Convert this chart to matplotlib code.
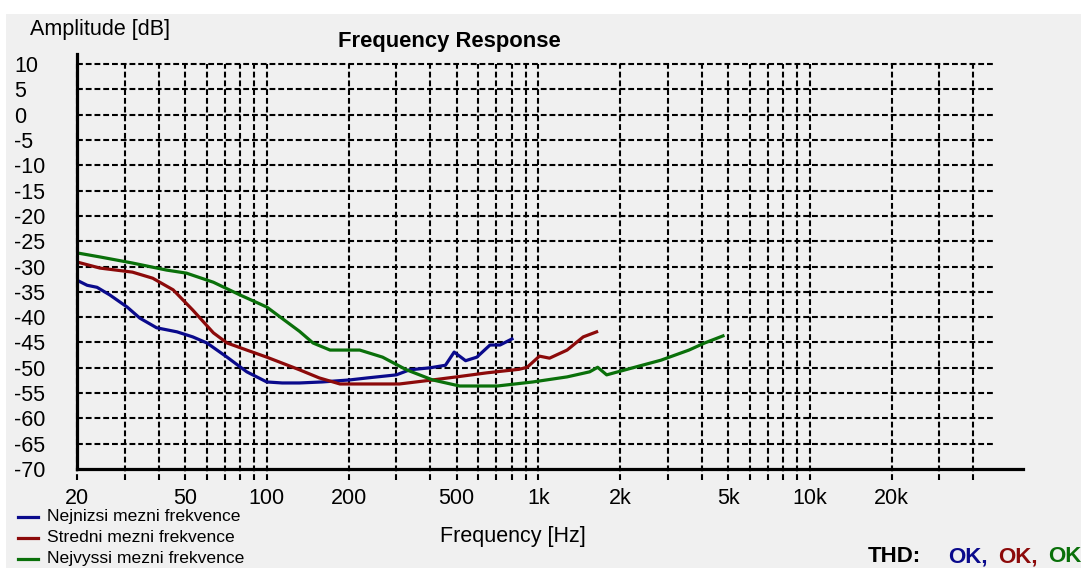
import matplotlib
matplotlib.use("Agg")
import matplotlib.pyplot as plt
from matplotlib.patches import Rectangle
from matplotlib.lines import Line2D

plt.rcParams['font.family'] = ['Liberation Sans', 'DejaVu Sans']

# data (frequency in Hz, level in dB)
blue_f = [20, 21.8, 23.7, 26.4, 30.6, 34.1, 39.3, 46.7, 53.4, 60.2, 71.4, 84.4, 100, 114, 132,
          160, 202, 235, 300, 336, 400, 455, 490, 540, 594, 664, 723, 800]
blue_db = [-32.7, -33.7, -34.1, -35.6, -38, -40.2, -42.1, -42.9, -43.9, -45.1, -47.9, -50.8, -52.8, -53, -53,
           -52.8, -52.4, -52, -51.4, -50.4, -50.0, -49.5, -46.9, -48.6, -47.9, -45.5, -45.5, -44.3]

red_f = [20, 24.3, 32, 38, 45.2, 53.4, 63.6, 71.4, 84.4, 100, 132, 156, 186, 250, 308, 408, 500,
         646, 850, 910, 1010, 1100, 1277, 1464, 1640]
red_db = [-29.1, -30.3, -31.1, -32.3, -34.6, -38.6, -43.1, -45.1, -46.5, -47.9, -50.4, -52, -53.2, -53.2, -53.2, -52.4, -51.8,
          -51, -50.3, -49.9, -47.7, -48.1, -46.5, -43.9, -42.9]

green_f = [20, 24.3, 32, 42.8, 50.6, 63.6, 79.6, 100, 132, 148, 171, 220, 267, 327, 408, 513, 706,
           955, 1277, 1546, 1655, 1786, 2160, 2830, 3590, 4100, 4790]
green_db = [-27.3, -28.1, -29.3, -30.7, -31.3, -33.1, -35.6, -38, -42.8, -45.1, -46.5, -46.5, -47.9, -50.4, -52.4, -53.6, -53.6,
            -52.8, -51.8, -50.8, -49.9, -51.4, -50.2, -48.5, -46.5, -45.1, -43.7]

series = [
    ("Nejnizsi mezni frekvence", blue_f, blue_db, "#0a0a8c"),
    ("Stredni mezni frekvence", red_f, red_db, "#8c0a0a"),
    ("Nejvyssi mezni frekvence", green_f, green_db, "#0a700a"),
]

x_ticks = [20, 50, 100, 200, 500, 1000, 2000, 5000, 10000, 20000]
x_labels = ["20", "50", "100", "200", "500", "1k", "2k", "5k", "10k", "20k"]
x_grid = [20, 30, 40, 50, 60, 70, 80, 90, 100,
          200, 300, 400, 500, 600, 700, 800, 900, 1000,
          2000, 3000, 4000, 5000, 6000, 7000, 8000, 9000, 10000,
          20000, 30000, 40000]
y_ticks = list(range(10, -75, -5))

W, H = 1081, 568
def fx(px):
    return px / W
def fy(py):
    return 1 - py / H

fig = plt.figure(figsize=(W / 100, H / 100), dpi=100, facecolor="white")
fig.patches.append(Rectangle((fx(6), 0), 1, fy(14), transform=fig.transFigure,
                             facecolor="#f0f0f0", edgecolor="none", zorder=-10))

ax = fig.add_axes([fx(77), fy(469), fx(1023) - fx(77), fy(54) - fy(469)])
ax.set_facecolor("none")
ax.set_xscale("log")
ax.set_xlim(20, 61000)
ax.set_ylim(-70, 12)

# dashed grid
ax.hlines(y_ticks[:-1], 20, 47300, colors="black", linewidth=1.5, linestyles=(0, (2.8, 1.4)), zorder=1)
ax.vlines(x_grid, -72.2, 10, colors="black", linewidth=1.5, linestyles=(0, (2.8, 1.4)), zorder=1, clip_on=False)

for name, f, db, col in series:
    ax.plot(f, db, color=col, linewidth=2.3, zorder=3)

for s in ["top", "right"]:
    ax.spines[s].set_visible(False)
for s in ["left", "bottom"]:
    ax.spines[s].set_linewidth(2.3)
    ax.spines[s].set_zorder(4)

ax.xaxis.set_minor_locator(matplotlib.ticker.NullLocator())
ax.set_xticks(x_ticks)
ax.set_xticklabels(x_labels)
ax.set_yticks(y_ticks)
ax.set_yticklabels([str(v) for v in y_ticks])
ax.tick_params(axis="x", length=0, pad=14, labelsize=15.5)
ax.tick_params(axis="y", length=0, pad=45.4, labelsize=15.5)
for lbl in ax.get_yticklabels():
    lbl.set_horizontalalignment("left")

fig.text(fx(338), fy(47), "Frequency Response", fontsize=15.8, fontweight="bold", va="baseline")
fig.text(fx(30), fy(35), "Amplitude [dB]", fontsize=15.5, va="baseline")
fig.text(fx(440), fy(542), "Frequency [Hz]", fontsize=15.5, va="baseline")

# legend
rows = [517, 538, 559]
for (name, f, db, col), yy in zip(series, rows):
    fig.add_artist(Line2D([fx(18), fx(38)], [fy(yy), fy(yy)], color=col, linewidth=2.3))
    fig.text(fx(47), fy(yy), name, fontsize=12.6, va="center")

fig.text(fx(868), fy(562), "THD:", fontsize=16, fontweight="bold", va="baseline")
for txt, col, px in [("OK,", "#0a0a8c", 948), ("OK,", "#8c0a0a", 998), ("OK", "#0a700a", 1048)]:
    fig.text(fx(px), fy(562), txt, fontsize=16, fontweight="bold", color=col, va="baseline")

fig.savefig("out.png", dpi=100, facecolor=fig.get_facecolor())
